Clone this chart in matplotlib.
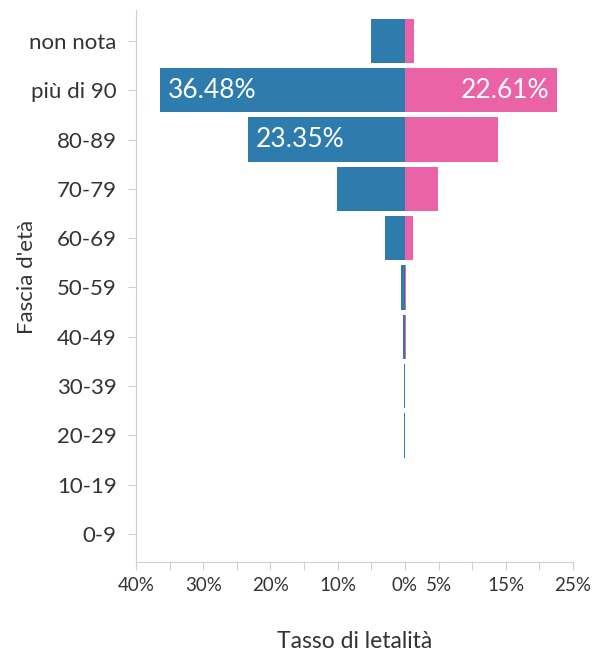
import matplotlib.pyplot as plt
import numpy as np

plt.rcParams['font.family'] = ['Lato', 'DejaVu Sans']

# age bands, bottom to top
fasce = ["0-9", "10-19", "20-29", "30-39", "40-49", "50-59",
         "60-69", "70-79", "80-89", "più di 90", "non nota"]
# fatality rate (%) men (left, blue) and women (right, pink)
uomini = [0.0, 0.0, 0.07, 0.12, 0.3, 0.6, 3.0, 10.1, 23.35, 36.48, 5.0]
donne = [0.0, 0.0, 0.02, 0.04, 0.1, 0.2, 1.2, 4.9, 13.8, 22.61, 1.3]
# which bars carry a value label
etichetta_uomini = [False] * 8 + [True, True, False]
etichetta_donne = [False] * 9 + [True, False]

xticks = [-40, -35, -30, -25, -20, -15, -10, -5, 0, 5, 10, 15, 20, 25]
xticklabels = ["40%", "", "30%", "", "20%", "", "10%", "", "0%",
               "5%", "", "15%", "", "25%"]

blu = "#2e7bad"
rosa = "#e963a6"
grigio = "#d0d0d0"
testo = "#333333"

fig = plt.figure(figsize=(5.93, 6.51), dpi=100)
ax = fig.add_axes([0.2293, 0.1367, 0.737, 0.848])

y = np.arange(len(fasce))
ax.barh(y, [-v for v in uomini], height=0.9, color=blu, linewidth=0)
ax.barh(y, donne, height=0.9, color=rosa, linewidth=0)

for i in range(len(fasce)):
    if etichetta_uomini[i]:
        ax.text(-uomini[i] + 1.2, y[i], f"{uomini[i]:.2f}%", color="white",
                fontsize=19, va="center", ha="left")
    if etichetta_donne[i]:
        ax.text(donne[i] - 1.2, y[i], f"{donne[i]:.2f}%", color="white",
                fontsize=19, va="center", ha="right")

ax.set_xlim(-40, 25)
ax.set_ylim(-0.57, 10.63)
ax.set_yticks(y)
ax.set_yticklabels(fasce, fontsize=16, color=testo)
ax.set_xticks(xticks)
ax.set_xticklabels(xticklabels, fontsize=13.5, color=testo)

for s in ["top", "right"]:
    ax.spines[s].set_visible(False)
for s in ["left", "bottom"]:
    ax.spines[s].set_color(grigio)
    ax.spines[s].set_linewidth(0.8)
ax.tick_params(axis="both", color=grigio, length=6, width=0.8)
ax.tick_params(axis="y", pad=8)
ax.tick_params(axis="x", pad=5)

ax.set_xlabel("Tasso di letalità", fontsize=16.5, color=testo)
ax.xaxis.set_label_coords(0.5, -0.125)
ax.set_ylabel("Fascia d'età", fontsize=16, color=testo)
ax.yaxis.set_label_coords(-0.226, 0.516)

plt.savefig("out.png", dpi=100)
